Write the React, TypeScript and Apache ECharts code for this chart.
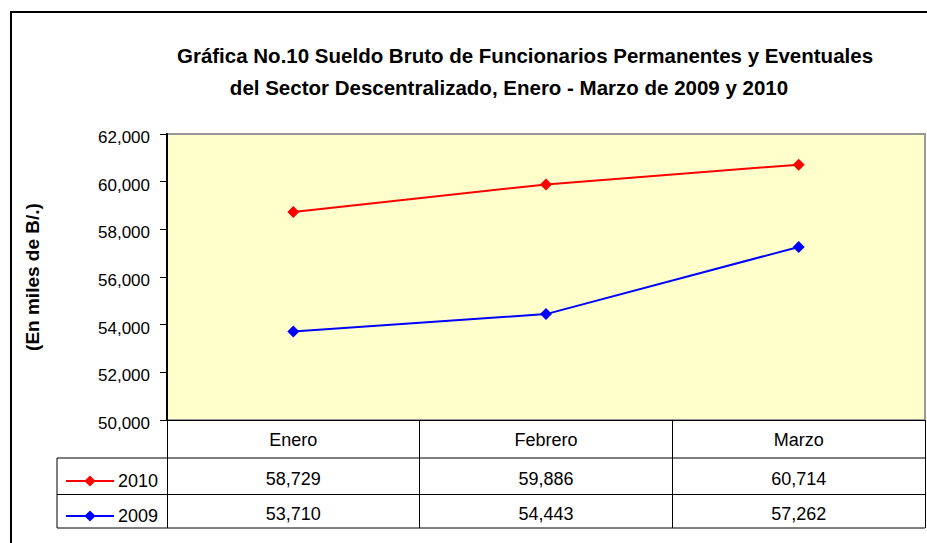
import React, { useEffect, useRef } from "react";
import * as echarts from "echarts";

const categories = ["Enero", "Febrero", "Marzo"];
const seriesNames = ["2010", "2009"];
const values2010 = [58729, 59886, 60714];
const values2009 = [53710, 54443, 57262];
const titleLines = [
  "Gráfica No.10 Sueldo Bruto de Funcionarios Permanentes y Eventuales",
  "del Sector Descentralizado, Enero - Marzo de 2009 y 2010",
];
const yAxisTitle = "(En miles de B/.)";

const FONT = "'Liberation Sans', Arial, sans-serif";
const fmt = (v: number) => v.toLocaleString("en-US");

export default function App() {
  const ref = useRef<HTMLDivElement>(null);
  useEffect(() => {
    document.body.style.margin = "0";
    const chart = echarts.init(ref.current!, null, { renderer: "svg" });
    const W = 927;
    const gridLeft = 167;
    const gridRight = 925;
    const gridTop = 134;
    const gridBottom = 420;
    const row1 = 458;
    const row2 = 494.5;
    const row3 = 528;
    const tableLeft = 57;
    const lineStyle = { stroke: "#000", lineWidth: 1 };
    const LBL = 18;
    chart.setOption({
      animation: false,
      backgroundColor: "#fff",
      textStyle: { fontFamily: FONT },
      grid: {
        left: gridLeft,
        right: W - gridRight,
        top: gridTop,
        bottom: 543 - gridBottom,
        show: true,
        backgroundColor: "#FFFFCC",
        borderColor: "#999",
        borderWidth: 2,
      },
      legend: {
        orient: "vertical",
        left: 60,
        top: 467,
        itemWidth: 48,
        itemHeight: 14,
        itemGap: 17,
        itemStyle: { borderWidth: 0 },
        textStyle: { fontSize: LBL, color: "#000", fontFamily: FONT, padding: [3, 0, 0, -1] },
        data: seriesNames,
      },
      xAxis: [
        {
          type: "category",
          data: categories,
          boundaryGap: true,
          axisLine: { lineStyle: { color: "#000", width: 1 } },
          axisTick: { show: true, length: row3 - gridBottom, interval: 0, lineStyle: { color: "#000", width: 1 } },
          axisLabel: { fontSize: LBL, color: "#000", margin: 20, verticalAlign: "middle", fontFamily: FONT },
        },
        {
          type: "category",
          data: categories,
          position: "bottom",
          axisLine: { show: false },
          axisTick: { show: false },
          axisLabel: {
            fontSize: LBL,
            color: "#000",
            margin: 58.5,
            verticalAlign: "middle",
            fontFamily: FONT,
            formatter: (_v: string, i: number) => fmt(values2010[i]),
          },
        },
        {
          type: "category",
          data: categories,
          position: "bottom",
          axisLine: { show: false },
          axisTick: { show: false },
          axisLabel: {
            fontSize: LBL,
            color: "#000",
            margin: 93.5,
            verticalAlign: "middle",
            fontFamily: FONT,
            formatter: (_v: string, i: number) => fmt(values2009[i]),
          },
        },
      ],
      yAxis: {
        type: "value",
        min: 50000,
        max: 62000,
        interval: 2000,
        name: yAxisTitle,
        nameLocation: "middle",
        nameGap: 125,
        nameTextStyle: { fontSize: 19, fontWeight: "bold", color: "#000", fontFamily: FONT },
        axisLine: { show: true, lineStyle: { color: "#000", width: 2 } },
        axisTick: { show: true, length: 7, lineStyle: { color: "#000", width: 1 } },
        splitLine: { show: false },
        axisLabel: {
          fontSize: 17,
          color: "#000",
          margin: 17,
          fontFamily: FONT,
          formatter: (v: number) => "{v|" + fmt(v) + "}",
          rich: {
            v: { fontSize: 17, color: "#000", fontFamily: FONT, padding: [7, 0, 0, 0] },
          },
        },
      },
      series: [
        {
          name: seriesNames[0],
          type: "line",
          data: values2010,
          symbol: "diamond",
          symbolSize: 12,
          lineStyle: { color: "#FF0000", width: 2 },
          itemStyle: { color: "#FF0000" },
        },
        {
          name: seriesNames[1],
          type: "line",
          data: values2009,
          symbol: "diamond",
          symbolSize: 12,
          lineStyle: { color: "#0000FF", width: 2 },
          itemStyle: { color: "#0000FF" },
        },
      ],
      graphic: [
        {
          type: "rect",
          shape: { x: 11, y: 12, width: 940, height: 560 },
          style: { fill: "none", stroke: "#000", lineWidth: 2 },
          silent: true,
        },
        {
          type: "text",
          x: 525,
          y: 55,
          style: {
            text: titleLines[0],
            fontSize: 20.5,
            fontWeight: "bold",
            fill: "#000",
            fontFamily: FONT,
            textAlign: "center",
            textVerticalAlign: "middle",
          },
        },
        {
          type: "text",
          x: 509,
          y: 87,
          style: {
            text: titleLines[1],
            fontSize: 20.5,
            fontWeight: "bold",
            fill: "#000",
            fontFamily: FONT,
            textAlign: "center",
            textVerticalAlign: "middle",
          },
        },
        { type: "line", shape: { x1: tableLeft, y1: row1, x2: gridRight, y2: row1 }, style: lineStyle },
        { type: "line", shape: { x1: tableLeft, y1: row2, x2: gridRight, y2: row2 }, style: lineStyle },
        { type: "line", shape: { x1: tableLeft, y1: row3, x2: gridRight, y2: row3 }, style: lineStyle },
        { type: "line", shape: { x1: tableLeft, y1: row1, x2: tableLeft, y2: row3 }, style: lineStyle },
      ],
    });
    return () => chart.dispose();
  }, []);
  return <div ref={ref} style={{ width: 927, height: 543 }} />;
}
